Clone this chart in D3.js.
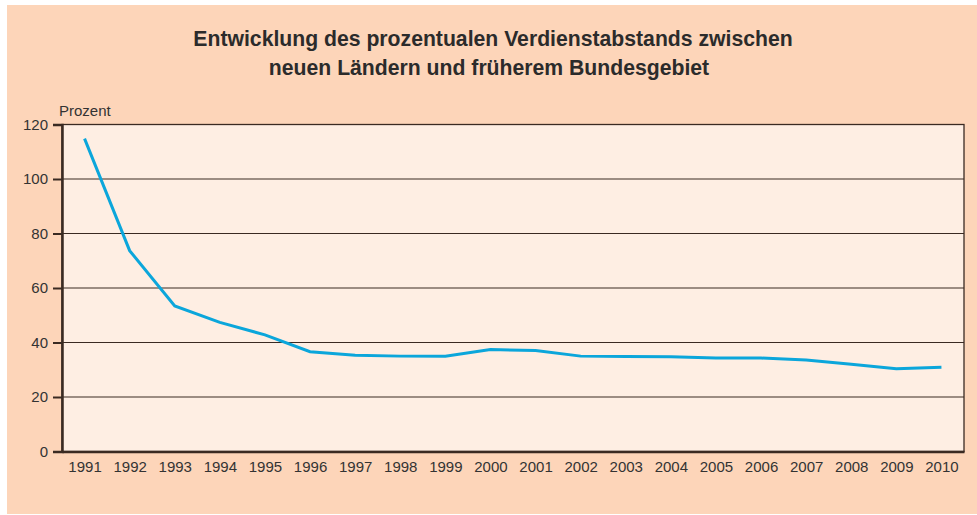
<!DOCTYPE html>
<html>
<head>
<meta charset="utf-8">
<script src="https://cdn.jsdelivr.net/npm/d3@7"></script>
<style>
  body { margin: 0; background: #fff; }
  svg { display: block; font-family: "Liberation Sans", Arial, sans-serif; }
</style>
</head>
<body>
<div id="chart"></div>
<script>
// data
const years = ["1991", "1992", "1993", "1994", "1995", "1996", "1997", "1998", "1999", "2000",
    "2001", "2002", "2003", "2004", "2005", "2006", "2007", "2008", "2009", "2010"];
const gap = [114.8, 73.7, 53.4, 47.4, 42.8, 36.6, 35.3, 35.0, 35.0, 37.4,
    37.1, 35.0, 34.9, 34.8, 34.3, 34.3, 33.6, 32.0, 30.4, 30.9];
const yTicks = [0, 20, 40, 60, 80, 100, 120];
const titleLines = ["Entwicklung des prozentualen Verdienstabstands zwischen",
    "neuen Ländern und früherem Bundesgebiet"];

const W = 977, H = 515;
const margin = { top: 124.5, right: 13, bottom: 63.5, left: 62 };
const width = W - margin.left - margin.right;
const height = H - margin.top - margin.bottom;

const svg = d3.select("#chart").append("svg")
    .attr("width", W)
    .attr("height", H);

// peach panel
svg.append("rect")
    .attr("x", 7).attr("y", 5)
    .attr("width", W - 7).attr("height", H - 5 - 1)
    .attr("fill", "#fdd5b9");

// title
svg.append("g").selectAll("text")
    .data(titleLines)
    .enter()
    .append("text")
    .attr("x", (d, i) => i == 0 ? 493 : 489)
    .attr("y", (d, i) => 45.7 + i * 29.5)
    .attr("text-anchor", "middle")
    .attr("font-size", "21.2px")
    .attr("font-weight", "bold")
    .attr("fill", "#2b2b2b")
    .text(d => d);

const g = svg.append("g")
    .attr("transform", `translate(${margin.left},${margin.top})`);

const x = d3.scalePoint()
    .domain(years)
    .range([0, width])
    .padding(0.5);

const y = d3.scaleLinear()
    .domain([0, 120])
    .range([height, 0]);

// plot background + border
g.append("rect")
    .attr("width", width)
    .attr("height", height)
    .attr("fill", "#feeee3")
    .attr("stroke", "#3a2a22")
    .attr("stroke-width", 1.3);

// gridlines
g.append("g").selectAll("line")
    .data(yTicks.filter(d => d > 0 && d < 120))
    .enter()
    .append("line")
    .attr("x1", 0).attr("x2", width)
    .attr("y1", d => y(d)).attr("y2", d => y(d))
    .attr("stroke", "#3a2a22")
    .attr("stroke-width", 1.1);

// y axis
const yAxis = g.append("g")
    .call(d3.axisLeft(y).tickValues(yTicks).tickSize(9).tickPadding(5));
yAxis.select(".domain").attr("stroke", "#3a2a22").attr("stroke-width", 2.5);
yAxis.selectAll(".tick line").attr("stroke", "#3a2a22").attr("stroke-width", 2);
yAxis.selectAll("text")
    .attr("font-size", "15px")
    .attr("font-family", "Liberation Sans, Arial, sans-serif")
    .attr("fill", "#333");

// x axis
const xAxis = g.append("g")
    .attr("transform", `translate(0,${height})`)
    .call(d3.axisBottom(x).tickSize(0).tickPadding(10));
xAxis.select(".domain").attr("stroke", "#3a2a22").attr("stroke-width", 2.5);
xAxis.selectAll("text")
    .attr("font-size", "15px")
    .attr("font-family", "Liberation Sans, Arial, sans-serif")
    .attr("fill", "#333");

// unit label
g.append("text")
    .attr("x", -3)
    .attr("y", -8.5)
    .attr("font-size", "15px")
    .attr("fill", "#333")
    .text("Prozent");

// line
const line = d3.line()
    .x((d, i) => x(years[i]))
    .y(d => y(d));

g.append("path")
    .datum(gap)
    .attr("fill", "none")
    .attr("stroke", "#0ba6db")
    .attr("stroke-width", 3)
    .attr("d", line);
</script>
</body>
</html>
